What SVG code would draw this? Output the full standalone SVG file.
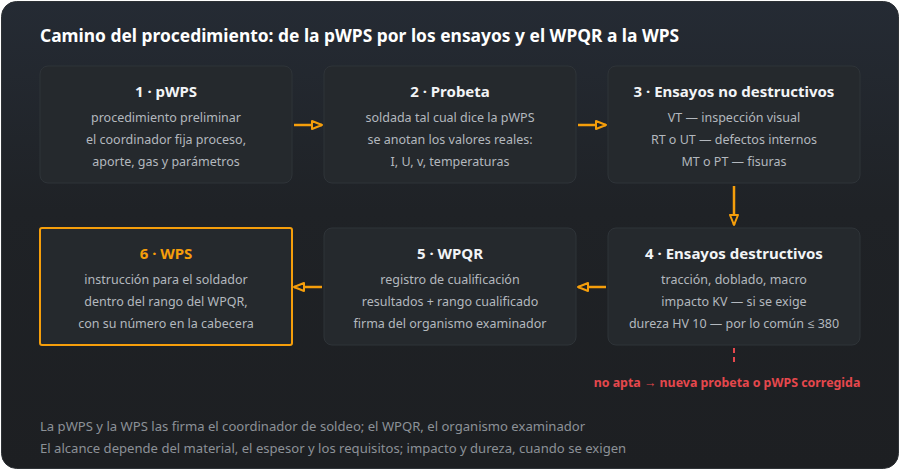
<svg xmlns="http://www.w3.org/2000/svg" width="900" height="470" viewBox="0 0 900 470">
<defs>
<linearGradient id="bg" x1="0" y1="0" x2="0" y2="1">
<stop offset="0" stop-color="#252b34"/>
<stop offset="0.45" stop-color="#1f2226"/>
<stop offset="1" stop-color="#1d1f22"/>
</linearGradient>
<marker id="ah" viewBox="0 0 12 10" refX="11" refY="5" markerWidth="12" markerHeight="10" markerUnits="userSpaceOnUse" orient="auto">
<path d="M1,1 L11,5 L1,9 Z" fill="#1f2226" stroke="#f59e0b" stroke-width="2" stroke-linejoin="round"/>
</marker>
<style>
.node{fill:#25292d;stroke:#2f3439;stroke-width:1}
.t{font-family:"Noto Sans","Open Sans",sans-serif;font-weight:700;font-size:15px;fill:#f2f4f6;text-anchor:middle}
.b{font-family:"Noto Sans","Open Sans",sans-serif;font-size:12.5px;fill:#b3b8be;text-anchor:middle}
.c{stroke:#f59e0b;stroke-width:2.5;fill:none;marker-end:url(#ah)}
.f{font-family:"Noto Sans","Open Sans",sans-serif;font-size:13.1px;fill:#8c9197}
</style>
</defs>
<rect x="1.5" y="1.5" width="897" height="467" rx="15" fill="url(#bg)" stroke="#2e3236"/>
<text x="40" y="42" font-family="'Noto Sans','Open Sans',sans-serif" font-weight="700" font-size="17.4" fill="#ffffff">Camino del procedimiento: de la pWPS por los ensayos y el WPQR a la WPS</text>

<g id="n1">
<rect class="node" x="40" y="66" width="252" height="117" rx="8"/>
<text class="t" x="166" y="97">1 · pWPS</text>
<text class="b" x="166" y="122">procedimiento preliminar</text>
<text class="b" x="166" y="144">el coordinador fija proceso,</text>
<text class="b" x="166" y="166">aporte, gas y parámetros</text>
</g>
<g id="n2">
<rect class="node" x="324" y="66" width="252" height="117" rx="8"/>
<text class="t" x="450" y="97">2 · Probeta</text>
<text class="b" x="450" y="122">soldada tal cual dice la pWPS</text>
<text class="b" x="450" y="144">se anotan los valores reales:</text>
<text class="b" x="450" y="166">I, U, v, temperaturas</text>
</g>
<g id="n3">
<rect class="node" x="608" y="66" width="252" height="117" rx="8"/>
<text class="t" x="734" y="97">3 · Ensayos no destructivos</text>
<text class="b" x="734" y="122">VT — inspección visual</text>
<text class="b" x="734" y="144">RT o UT — defectos internos</text>
<text class="b" x="734" y="166">MT o PT — fisuras</text>
</g>
<g id="n4">
<rect class="node" x="608" y="228" width="252" height="117" rx="8"/>
<text class="t" x="734" y="259">4 · Ensayos destructivos</text>
<text class="b" x="734" y="284">tracción, doblado, macro</text>
<text class="b" x="734" y="306">impacto KV — si se exige</text>
<text class="b" x="734" y="328">dureza HV 10 — por lo común ≤ 380</text>
</g>
<g id="n5">
<rect class="node" x="324" y="228" width="252" height="117" rx="8"/>
<text class="t" x="450" y="259">5 · WPQR</text>
<text class="b" x="450" y="284">registro de cualificación</text>
<text class="b" x="450" y="306">resultados + rango cualificado</text>
<text class="b" x="450" y="328">firma del organismo examinador</text>
</g>
<g id="n6">
<rect x="40" y="228" width="252" height="117" rx="2" fill="#25292d" stroke="#f59e0b" stroke-width="2"/>
<text class="t" x="166" y="259" style="fill:#f59e0b">6 · WPS</text>
<text class="b" x="166" y="284">instrucción para el soldador</text>
<text class="b" x="166" y="306">dentro del rango del WPQR,</text>
<text class="b" x="166" y="328">con su número en la cabecera</text>
</g>

<g id="connectors">
<line class="c" x1="294" y1="125" x2="322" y2="125"/>
<line class="c" x1="578" y1="125" x2="606" y2="125"/>
<line class="c" x1="734" y1="186" x2="734" y2="225"/>
<line class="c" x1="606" y1="287" x2="578" y2="287"/>
<line class="c" x1="322" y1="287" x2="294" y2="287"/>
<line x1="734" y1="348" x2="734" y2="366" stroke="#e5484d" stroke-width="2" stroke-dasharray="5,4"/>
</g>
<text x="727" y="387" text-anchor="middle" font-family="'Noto Sans','Open Sans',sans-serif" font-weight="700" font-size="12.4" fill="#e5484d">no apta → nueva probeta o pWPS corregida</text>

<text class="f" x="40" y="431">La pWPS y la WPS las firma el coordinador de soldeo; el WPQR, el organismo examinador</text>
<text class="f" x="40" y="453">El alcance depende del material, el espesor y los requisitos; impacto y dureza, cuando se exigen</text>
</svg>
